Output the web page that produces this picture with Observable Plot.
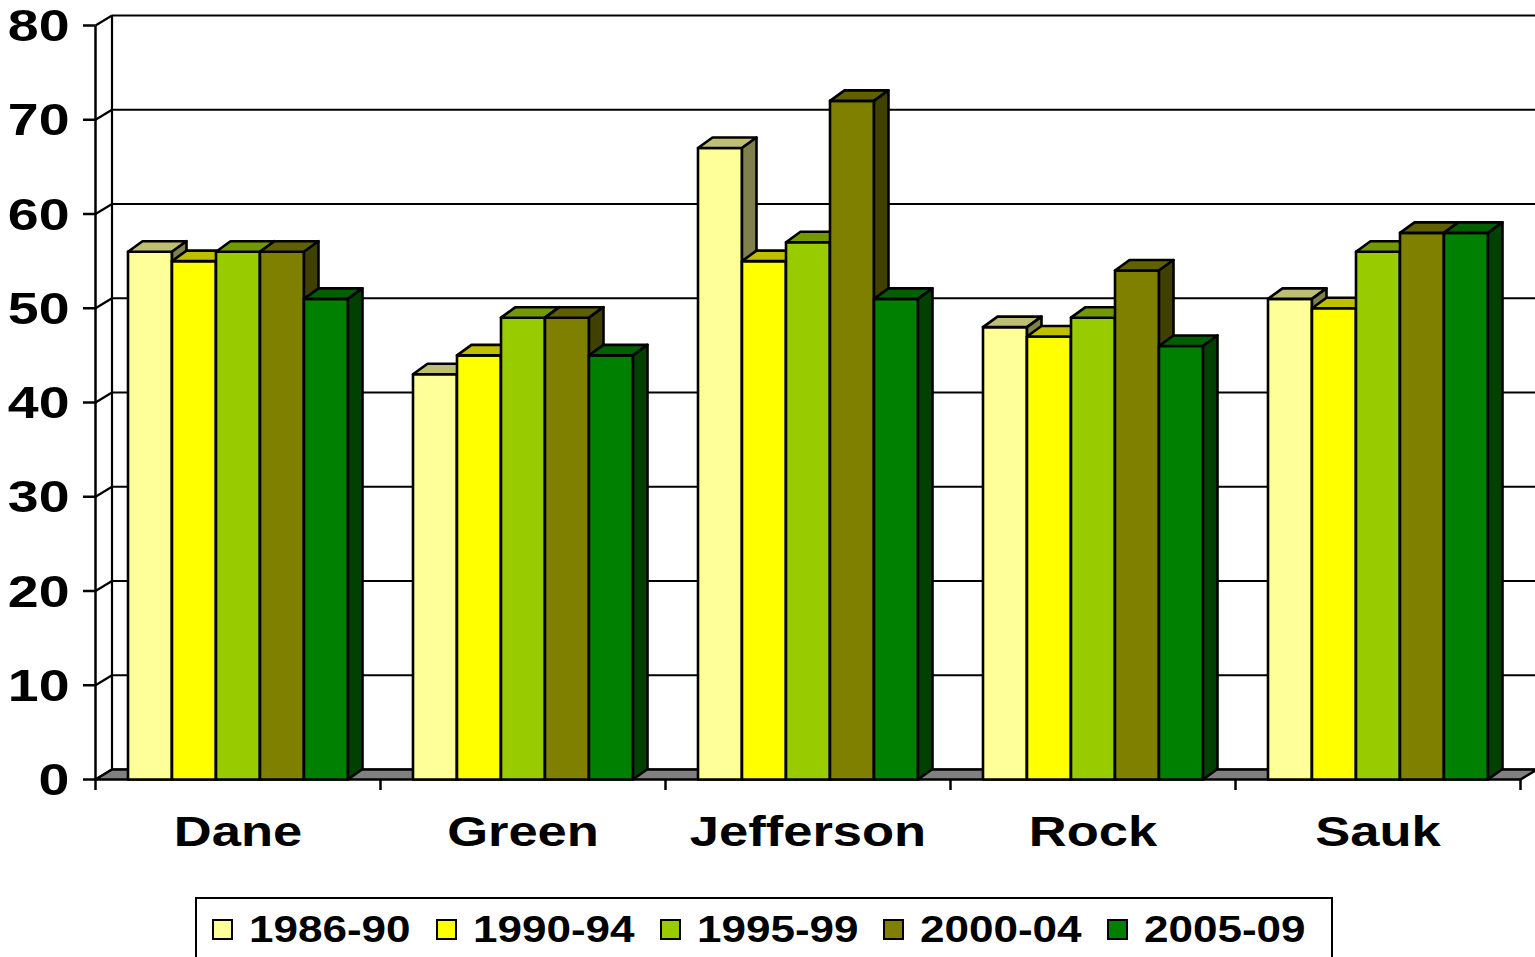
<!DOCTYPE html>
<html>
<head>
<meta charset="utf-8">
<script src="https://cdn.jsdelivr.net/npm/d3@7"></script>
<script src="https://cdn.jsdelivr.net/npm/@observablehq/plot@0.6"></script>
<style>
  html, body { margin: 0; padding: 0; background: #fff; overflow: hidden; }
  #wrap { position: relative; width: 1535px; height: 957px; }
  #legend {
    position: absolute; left: 195px; top: 897px; width: 1138px; height: 80px;
    box-sizing: border-box; border: 2px solid #000; background: #fff;
    display: flex; align-items: flex-start; padding-left: 15px; padding-top: 19px;
    font-family: "Liberation Sans", Arial, sans-serif; font-weight: bold; font-size: 37px;
  }
  .item { width: 225.75px; display: flex; align-items: center; height: 23px; }
  .sw { width: 17px; height: 17px; border: 2px solid #000; flex: none; }
  .lab { margin-left: 16px; transform: scaleX(1.19); transform-origin: left center; line-height: 23px; white-space: nowrap; }
</style>
</head>
<body>
<div id="wrap"><div id="chart"></div><div id="legend"></div></div>
<script>
// ---- data ----
const counties = ["Dane", "Green", "Jefferson", "Rock", "Sauk"];
const periods = ["1986-90", "1990-94", "1995-99", "2000-04", "2005-09"];
const v1986_90 = [56, 43, 67, 48, 51];
const v1990_94 = [55, 45, 55, 47, 50];
const v1995_99 = [56, 49, 57, 49, 56];
const v2000_04 = [56, 49, 72, 54, 58];
const v2005_09 = [51, 45, 51, 46, 58];
const yTicks = [0, 10, 20, 30, 40, 50, 60, 70, 80];

// ---- styles ----
const frontColors = ["#FFFF99", "#FFFF00", "#99CC00", "#808000", "#008000"];
const topColors   = ["#BFBF73", "#BFBF00", "#739900", "#606000", "#006000"];
const sideColors  = ["#80804D", "#808000", "#4D6600", "#404000", "#004000"];

const series = [v1986_90, v1990_94, v1995_99, v2000_04, v2005_09];

// geometry (scale units): x is category index, y is value
const W = 1535, H = 897;
const mL = 95, mR = 15, mT = 25, mB = 118;
const pxX = (W - mL - mR) / 5;          // px per category
const pxY = (H - mT - mB) / 80;         // px per value unit
const WDX = 16.5 / pxX, WDY = 10 / pxY; // wall depth
const BDX = 14.5 / pxX, BDY = 10.5 / pxY; // bar depth
const BW = 44 / pxX, PAD = (1 - 5 * BW) / 2;
const TICKX = 12 / pxX, TICKY = 11 / pxY;

// bar face polygons
const faces = [];
counties.forEach((c, i) => {
  periods.forEach((p, j) => {
    const v = series[j][i];
    const x1 = i + PAD + j * BW, x2 = x1 + BW;
    const add = (name, color, pts) => pts.forEach(([x, y]) => faces.push({id: `${c}|${p}|${name}`, color, x, y}));
    add("front", frontColors[j], [[x1, 0], [x1, v], [x2, v], [x2, 0], [x1, 0]]);
    add("top", topColors[j], [[x1, v], [x1 + BDX, v + BDY], [x2 + BDX, v + BDY], [x2, v], [x1, v]]);
    add("side", sideColors[j], [[x2, 0], [x2, v], [x2 + BDX, v + BDY], [x2 + BDX, BDY], [x2, 0]]);
  });
});

const floor = [[0, 0], [5, 0], [5 + WDX, WDY], [WDX, WDY], [0, 0]].map(([x, y]) => ({x, y}));
const bounds = d3.range(0, 6);

const plot = Plot.plot({
  width: W, height: H,
  marginLeft: mL, marginRight: mR, marginTop: mT, marginBottom: mB,
  x: {domain: [0, 5], axis: null},
  y: {domain: [0, 80], axis: null},
  color: {type: "identity"},
  style: {fontFamily: "'Liberation Sans', Arial, sans-serif", fontWeight: "bold", background: "#fff", overflow: "visible", color: "#000"},
  marks: [
    // back wall gridlines
    Plot.link(yTicks, {x1: WDX, x2: 5 + WDX, y1: d => d + WDY, y2: d => d + WDY, stroke: "#000", strokeWidth: 2.2}),
    // wall edges
    Plot.link([WDX, 5 + WDX], {x1: d => d, x2: d => d, y1: WDY, y2: 80 + WDY, stroke: "#000", strokeWidth: 2.2}),
    // left side wall diagonals
    Plot.link(yTicks, {x1: 0, y1: d => d, x2: WDX, y2: d => d + WDY, stroke: "#000", strokeWidth: 2.2}),
    // front y axis line and ticks
    Plot.link([0], {x1: 0, x2: 0, y1: 0, y2: 80, stroke: "#000", strokeWidth: 2.5}),
    Plot.ruleY(yTicks, {x1: -TICKX, x2: 0, stroke: "#000", strokeWidth: 2.5}),
    // floor
    Plot.line(floor, {x: "x", y: "y", fill: "#808080", stroke: "#000", strokeWidth: 2.5}),
    // x ticks at category boundaries
    Plot.ruleX(bounds, {y1: -TICKY, y2: 0, stroke: "#000", strokeWidth: 2.5}),
    // bars
    Plot.line(faces, {x: "x", y: "y", z: "id", fill: "color", stroke: "#000", strokeWidth: 2.6, strokeLinejoin: "round"}),
    // labels
    Plot.text(counties, {x: (d, i) => i + 0.5, y: 0, dy: 53, text: d => d, fontSize: 42, fill: "#000"}),
    Plot.text(yTicks, {x: 0, y: d => d, dx: -26, dy: 1.5, text: d => String(d), textAnchor: "end", fontSize: 44, fill: "#000"})
  ]
});

document.getElementById("chart").appendChild(plot);

// widen the bold labels like the original's stretched type
plot.querySelectorAll("text").forEach(t => {
  const s = counties.includes(t.textContent) ? 1.25 : 1.26;
  const len = t.getComputedTextLength();
  if (len > 0) {
    t.setAttribute("textLength", (len * s).toFixed(1));
    t.setAttribute("lengthAdjust", "spacingAndGlyphs");
  }
});

// legend
const legend = d3.select("#legend");
periods.forEach((p, j) => {
  const it = legend.append("div").attr("class", "item");
  it.append("div").attr("class", "sw").style("background", frontColors[j]);
  it.append("div").attr("class", "lab").text(p);
});
</script>
</body>
</html>
